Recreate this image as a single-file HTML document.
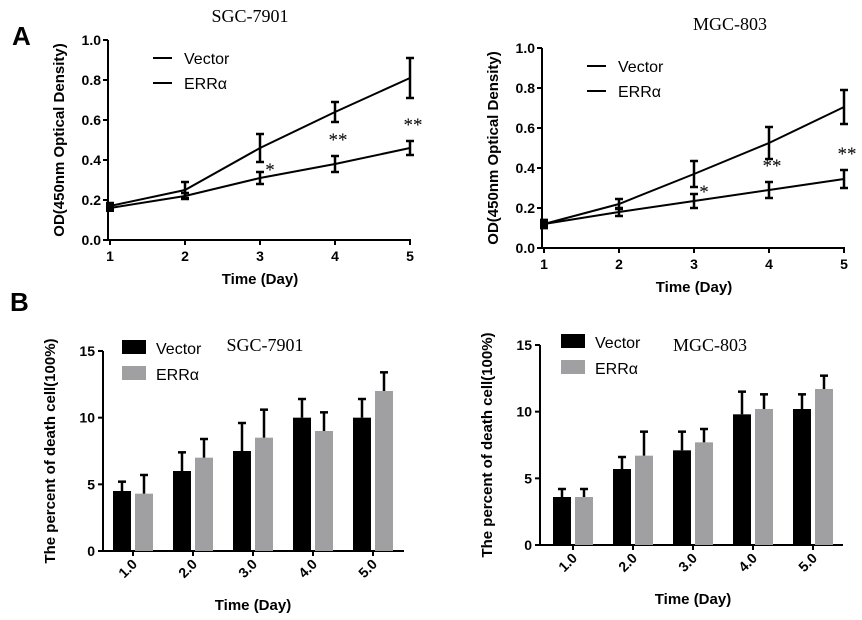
<!DOCTYPE html>
<html><head><meta charset="utf-8"><style>
body{margin:0;background:#fff;}
svg{display:block;font-family:"Liberation Sans",Arial,sans-serif;}
.t{font-family:"Liberation Serif",serif;font-size:18px;}
</style></head><body>
<svg id="s" width="862" height="620" viewBox="0 0 862 620">
<text x="12" y="45" font-size="26" font-weight="bold">A</text>
<text x="10" y="311" font-size="26" font-weight="bold">B</text>
</svg>
<script>
const days=[1,2,3,4,5];
const catLabels=["1.0","2.0","3.0","4.0","5.0"];
const odTicks=[0,0.2,0.4,0.6,0.8,1.0];
const pctTicks=[0,5,10,15];
const sgcVec=[0.17,0.25,0.46,0.64,0.81];
const sgcVecErr=[0.015,0.04,0.07,0.05,0.1];
const sgcErr=[0.16,0.22,0.31,0.38,0.46];
const sgcErrErr=[0.01,0.015,0.03,0.04,0.035];
const sgcSig=["","","*","**","**"];
const mgcVec=[0.12,0.22,0.37,0.525,0.705];
const mgcVecErr=[0.02,0.025,0.065,0.08,0.085];
const mgcErr=[0.12,0.18,0.235,0.29,0.345];
const mgcErrErr=[0.02,0.02,0.035,0.04,0.045];
const mgcSig=["","","*","**","**"];
const sgcDeathVec=[4.5,6,7.5,10,10];
const sgcDeathVecE=[0.7,1.4,2.1,1.4,1.4];
const sgcDeathErr=[4.3,7,8.5,9,12];
const sgcDeathErrE=[1.4,1.4,2.1,1.4,1.4];
const mgcDeathVec=[3.6,5.7,7.1,9.8,10.2];
const mgcDeathVecE=[0.6,0.9,1.4,1.7,1.1];
const mgcDeathErr=[3.6,6.7,7.7,10.2,11.7];
const mgcDeathErrE=[0.6,1.8,1.0,1.1,1.0];

const S=document.getElementById('s');
function el(t,a,txt){const e=document.createElementNS('http://www.w3.org/2000/svg',t);for(const k in a)e.setAttribute(k,a[k]);if(txt!==undefined)e.textContent=txt;S.appendChild(e);return e;}

function lineChart(o){
  const X=v=>o.x0+(v-1)*(o.x1-o.x0)/4, Y=v=>o.y0-(v)*(o.y0-o.y1)/1.0;
  let e=el('line',{x1:o.x0-2,y1:o.y0,x2:o.x0-2,y2:o.y1,stroke:'#000','stroke-width':2});
  
  e=el('line',{x1:o.x0-2,y1:o.y0,x2:o.x1+1,y2:o.y0,stroke:'#000','stroke-width':2});
  
  odTicks.forEach(t=>{el('line',{x1:o.x0-7,x2:o.x0-2,y1:Y(t),y2:Y(t),stroke:'#000','stroke-width':2});
    e=el('text',{x:o.x0-9,y:Y(t)+5,'font-size':14,'font-weight':'bold','text-anchor':'end'},t.toFixed(1));
    });
  days.forEach(d=>{el('line',{x1:X(d),x2:X(d),y1:o.y0,y2:o.y0+5,stroke:'#000','stroke-width':2});
    e=el('text',{x:X(d),y:o.y0+21,'font-size':14,'font-weight':'bold','text-anchor':'middle'},d);
    });
  [[o.v,o.ve],[o.e,o.ee]].forEach(([v,ve],si)=>{
    e=el('polyline',{points:v.map((y,i)=>X(days[i])+','+Y(y)).join(' '),fill:'none',stroke:'#000','stroke-width':2});
    
    v.forEach((y,i)=>{const x=X(days[i]);
      el('line',{x1:x,x2:x,y1:Y(y-ve[i]),y2:Y(y+ve[i]),stroke:'#000','stroke-width':2.5});
      el('line',{x1:x-4,x2:x+4,y1:Y(y-ve[i]),y2:Y(y-ve[i]),stroke:'#000','stroke-width':2.5});
      el('line',{x1:x-4,x2:x+4,y1:Y(y+ve[i]),y2:Y(y+ve[i]),stroke:'#000','stroke-width':2.5});});
    el('rect',{x:X(1)-4,y:Y(v[0])-4,width:8,height:8,fill:'#000'});
  });
  o.sig.forEach((s,i)=>{if(!s)return; const ey=o.e[i]+o.ee[i];
    const xx= s==='*'?X(days[i])+10:X(days[i])+3; const yy= s==='*'?Y(ey)+4:Y(ey)-10;
    e=el('text',{x:xx,y:yy,'font-size':19,'text-anchor':'middle','font-family':'Liberation Serif,serif'},s);
    });
  el('line',{x1:o.x0+43,x2:o.x0+62,y1:o.y1+18,y2:o.y1+18,stroke:'#000','stroke-width':2});
  e=el('text',{x:o.x0+74,y:o.y1+24,'font-size':16},'Vector');
  el('line',{x1:o.x0+43,x2:o.x0+62,y1:o.y1+43,y2:o.y1+43,stroke:'#000','stroke-width':2});
  e=el('text',{x:o.x0+74,y:o.y1+49,'font-size':16},'ERRα');
  e=el('text',{x:(o.x0+o.x1)/2,y:o.y0+44,'font-size':15,'font-weight':'bold','text-anchor':'middle'},'Time (Day)');
  
  e=el('text',{x:0,y:0,'font-size':15,'font-weight':'bold','text-anchor':'middle',transform:`translate(${o.x0-46},${(o.y0+o.y1)/2}) rotate(-90)`},'OD(450nm Optical Density)');
  
  e=el('text',{x:o.tx,y:o.ty,class:'t','text-anchor':'middle'},o.title);
  
}
function barChart(o){
  const Y=v=>o.y0-v*(o.y0-o.y1)/15;
  let e=el('line',{x1:o.ax,y1:o.y0,x2:o.ax,y2:o.y1,stroke:'#000','stroke-width':2});
  
  e=el('line',{x1:o.ax,y1:o.y0,x2:o.axEnd,y2:o.y0,stroke:'#000','stroke-width':2});
  
  pctTicks.forEach(t=>{el('line',{x1:o.ax-5,x2:o.ax,y1:Y(t),y2:Y(t),stroke:'#000','stroke-width':2});
    e=el('text',{x:o.ax-8,y:Y(t)+5,'font-size':14,'font-weight':'bold','text-anchor':'end'},t);
    });
  catLabels.forEach((c,i)=>{const cx=o.c0+i*o.step;
    el('line',{x1:cx,x2:cx,y1:o.y0,y2:o.y0+5,stroke:'#000','stroke-width':2});
    e=el('text',{x:0,y:0,'font-size':14,'font-weight':'bold','text-anchor':'end',transform:`translate(${cx+5},${o.y0+14}) rotate(-45)`},c);
    
    [[o.v,o.ve,'#000',-20,'vector'],[o.e,o.ee,'#a0a0a2',2,'errra']].forEach(([v,ve,col,off,nm])=>{
      const x=cx+off;
      e=el('rect',{x:x,y:Y(v[i]),width:18,height:Y(0)-Y(v[i]),fill:col});
      
      el('line',{x1:x+9,x2:x+9,y1:Y(v[i]),y2:Y(v[i]+ve[i]),stroke:'#000','stroke-width':2.5});
      el('line',{x1:x+5,x2:x+13,y1:Y(v[i]+ve[i]),y2:Y(v[i]+ve[i]),stroke:'#000','stroke-width':2.5});
    });});
  el('rect',{x:o.lx,y:o.ly,width:24,height:14,fill:'#000'});
  e=el('text',{x:o.lx+34,y:o.ly+14,'font-size':16},'Vector');
  el('rect',{x:o.lx,y:o.ly+26,width:24,height:14,fill:'#a0a0a2'});
  e=el('text',{x:o.lx+34,y:o.ly+40,'font-size':16},'ERRα');
  e=el('text',{x:o.c0+2*o.step,y:o.y0+59,'font-size':15,'font-weight':'bold','text-anchor':'middle'},'Time (Day)');
  
  e=el('text',{x:0,y:0,'font-size':15,'font-weight':'bold','text-anchor':'middle',transform:`translate(${o.ax-48},${o.y0-100}) rotate(-90)`},'The percent of death cell(100%)');
  
  e=el('text',{x:o.tx,y:o.ty,class:'t','text-anchor':'middle'},o.title);
  
}
lineChart({id:'sgc-od',x0:110,x1:410,y0:240,y1:40,v:sgcVec,ve:sgcVecErr,e:sgcErr,ee:sgcErrErr,sig:sgcSig,title:'SGC-7901',tx:250,ty:22});
lineChart({id:'mgc-od',x0:544,x1:844,y0:248,y1:48,v:mgcVec,ve:mgcVecErr,e:mgcErr,ee:mgcErrErr,sig:mgcSig,title:'MGC-803',tx:730,ty:30});
barChart({id:'sgc-death',ax:103,axEnd:404,y0:551,y1:351,c0:133,step:60,v:sgcDeathVec,ve:sgcDeathVecE,e:sgcDeathErr,ee:sgcDeathErrE,lx:122,ly:340,title:'SGC-7901',tx:265,ty:351});
barChart({id:'mgc-death',ax:540,axEnd:843,y0:545,y1:345,c0:573,step:60,v:mgcDeathVec,ve:mgcDeathVecE,e:mgcDeathErr,ee:mgcDeathErrE,lx:561,ly:334,title:'MGC-803',tx:710,ty:351});
</script>
</body></html>
